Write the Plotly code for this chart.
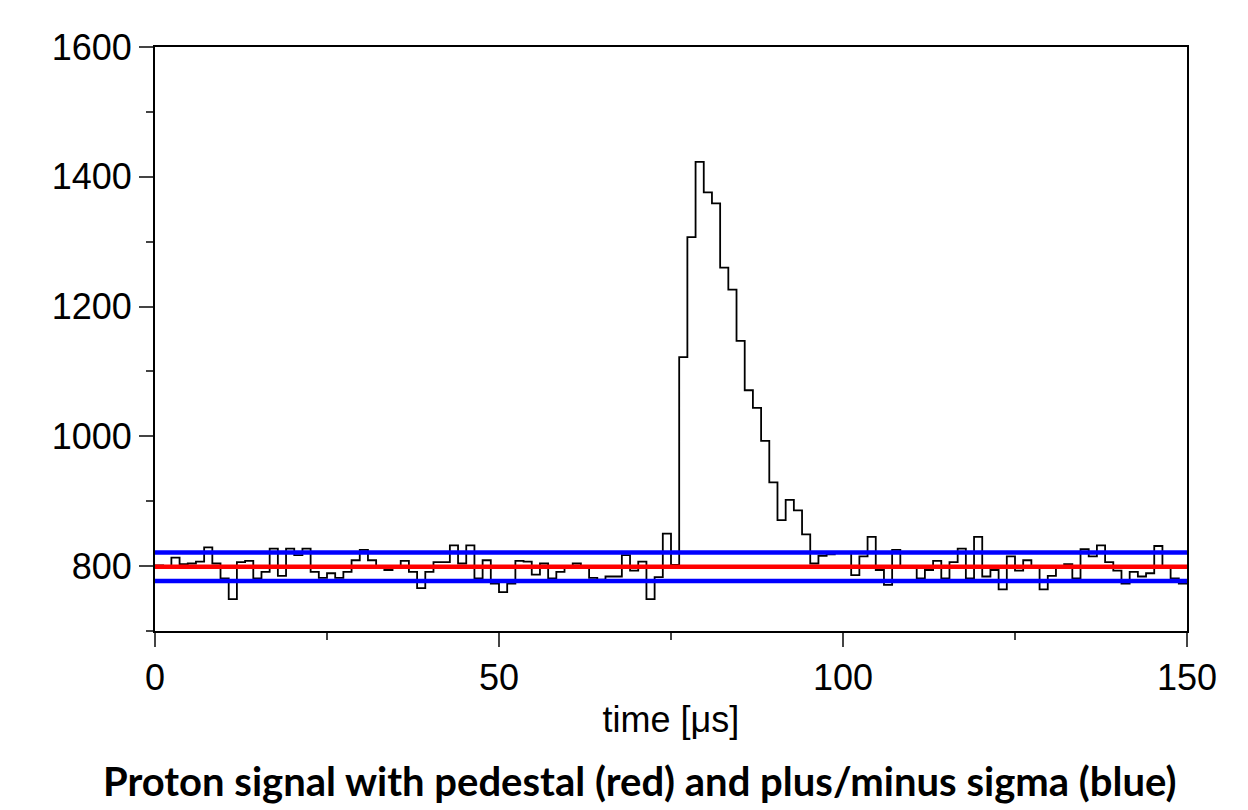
import numpy as np
import plotly.graph_objects as go

# Signal values per time bin (126 bins spanning 0-150 µs)
signal = [
    801, 799, 813, 803, 804, 807, 829, 804, 781, 749,
    806, 808, 781, 791, 827, 785, 827, 817, 827, 791,
    782, 789, 782, 791, 809, 825, 809, 797, 794, 799,
    808, 791, 766, 791, 806, 806, 832, 804, 832, 781,
    809, 773, 760, 773, 808, 807, 787, 804, 781, 791,
    799, 804, 799, 782, 779, 784, 784, 817, 793, 807,
    749, 783, 850, 802, 1122, 1307, 1423, 1376, 1359, 1260,
    1226, 1147, 1071, 1044, 993, 929, 871, 902, 886, 849,
    804, 816, 818, 822, 820, 786, 815, 845, 794, 771,
    825, 799, 799, 781, 794, 808, 781, 806, 827, 781,
    845, 784, 794, 764, 815, 793, 809, 799, 764, 785,
    799, 803, 781, 826, 815, 832, 806, 793, 773, 791,
    784, 789, 831, 799, 781, 773,
]
time_range = [0, 150]
pedestal = 799
sigma = 22

x_ticks = [0, 50, 100, 150]
y_ticks = [800, 1000, 1200, 1400, 1600]

bin_edges = np.linspace(time_range[0], time_range[1], len(signal) + 1)
step_y = signal + [signal[-1]]

fig = go.Figure()
fig.add_trace(go.Scatter(x=bin_edges, y=step_y, mode="lines", line_shape="hv",
                         line=dict(color="black", width=1.8), showlegend=False))
for lvl, col in [(pedestal + sigma, "#0000ff"), (pedestal - sigma, "#0000ff"), (pedestal, "#ff0000")]:
    fig.add_trace(go.Scatter(x=time_range, y=[lvl, lvl], mode="lines",
                             line=dict(color=col, width=4.5), showlegend=False))

tick_font = dict(family="Liberation Sans, Arial, sans-serif", size=36, color="black")
fig.update_layout(
    width=1248, height=810,
    margin=dict(l=147, r=69, t=39, b=187),
    plot_bgcolor="white", paper_bgcolor="white",
    font=tick_font,
    xaxis=dict(range=time_range, tickvals=x_ticks, ticks="outside", ticklen=14, tickwidth=2,
               showline=True, linecolor="black", linewidth=2, mirror=True,
               showgrid=False, zeroline=False, tickfont=tick_font,
               minor=dict(dtick=25, ticks="outside", ticklen=7, tickwidth=2, showgrid=False),
               title=dict(text="time [μs]", font=tick_font, standoff=10)),
    yaxis=dict(range=[700, 1600], tickvals=y_ticks, ticks="outside", ticklen=14, tickwidth=2,
               showline=True, linecolor="black", linewidth=2, mirror=True,
               showgrid=False, zeroline=False, tickfont=tick_font,
               minor=dict(dtick=100, ticks="outside", ticklen=7, tickwidth=2, showgrid=False)),
    annotations=[dict(text="<b>Proton signal with pedestal (red) and plus/minus sigma (blue)</b>",
                      xref="paper", yref="paper", x=0.469, y=-0.257, xanchor="center", yanchor="middle",
                      showarrow=False,
                      font=dict(family="Lato, Carlito, Calibri, sans-serif", size=40, color="black"))],
)

fig.write_html("out.html")
